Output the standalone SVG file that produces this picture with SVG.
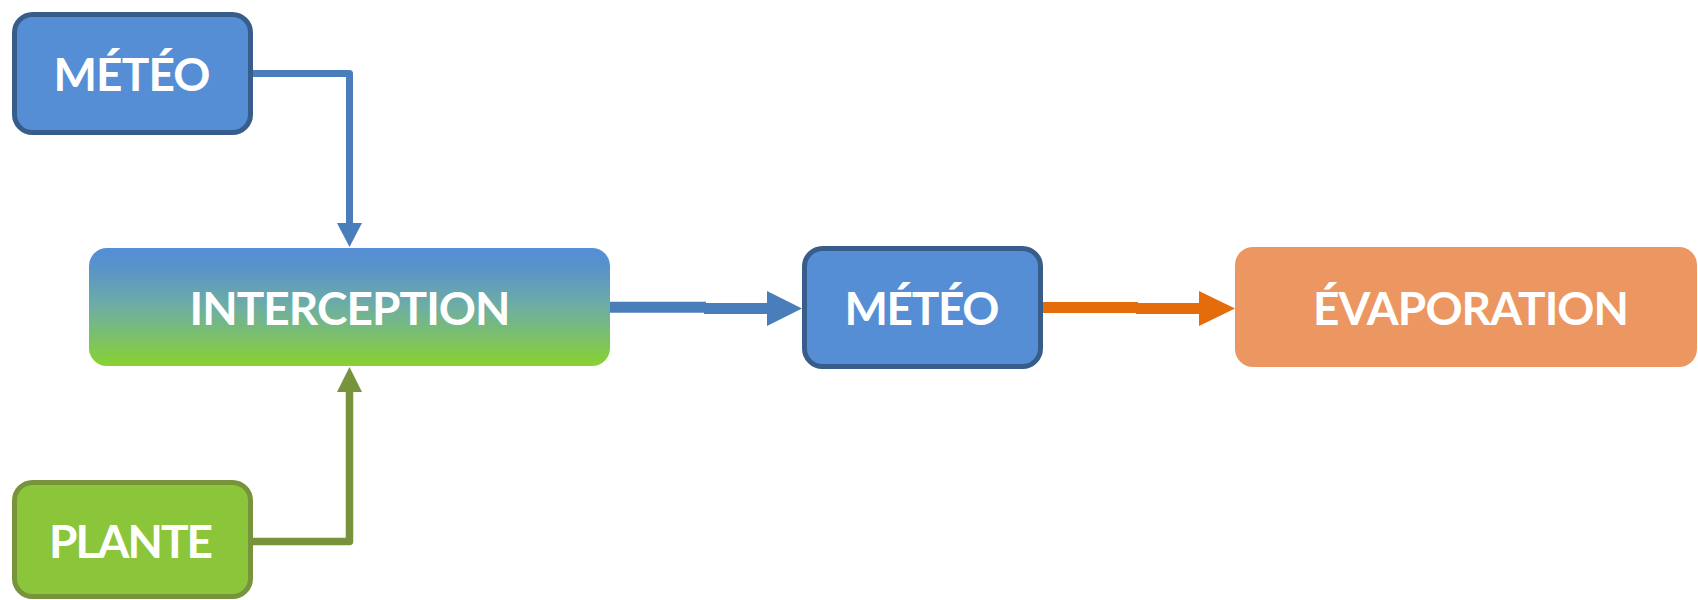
<svg xmlns="http://www.w3.org/2000/svg" width="1698" height="600" viewBox="0 0 1698 600">
  <style>
    .lbl { font-family: Lato, "Open Sans", "Liberation Sans", sans-serif; font-weight: 700; font-size: 46px; fill: #ffffff; text-anchor: middle; }
    .blue { fill: #558ed5; stroke: #385d8a; stroke-width: 5; }
    .green { fill: #8bc53a; stroke: #77933c; stroke-width: 5; }
    .orange { fill: #ec9761; }
    .c-blue { fill: none; stroke: #4a7ebb; stroke-linejoin: round; }
    .c-olive { fill: none; stroke: #77933c; stroke-linejoin: round; }
    .c-orange { fill: none; stroke: #e46c0a; }
  </style>
  <defs>
    <linearGradient id="gInt" x1="0" y1="0" x2="0" y2="1">
      <stop offset="0" stop-color="#558ed5"/>
      <stop offset="0.15" stop-color="#5892cc"/>
      <stop offset="0.5" stop-color="#6eaea3"/>
      <stop offset="1" stop-color="#88d230"/>
    </linearGradient>
    <marker id="aBlueS" markerUnits="userSpaceOnUse" viewBox="0 0 24 25" markerWidth="24" markerHeight="25" refX="0" refY="12.5" orient="auto">
      <path d="M0,0 L24,12.5 L0,25 z" fill="#4a7ebb"/>
    </marker>
    <marker id="aOliveS" markerUnits="userSpaceOnUse" viewBox="0 0 25 25" markerWidth="25" markerHeight="25" refX="0" refY="12.5" orient="auto">
      <path d="M0,0 L25,12.5 L0,25 z" fill="#77933c"/>
    </marker>
    <marker id="aBlueL" markerUnits="userSpaceOnUse" viewBox="0 0 35 35" markerWidth="35" markerHeight="35" refX="0" refY="17.5" orient="auto">
      <path d="M0,0 L35,17.5 L0,35 z" fill="#4a7ebb"/>
    </marker>
    <marker id="aOrangeL" markerUnits="userSpaceOnUse" viewBox="0 0 36 35" markerWidth="36" markerHeight="35" refX="0" refY="17.5" orient="auto">
      <path d="M0,0 L36,17.5 L0,35 z" fill="#e46c0a"/>
    </marker>
  </defs>

  <g id="connectors">
    <path class="c-blue" stroke-width="7" d="M252,73.5 H349.5 V223" marker-end="url(#aBlueS)"/>
    <path class="c-olive" stroke-width="7.5" d="M252,541.5 H349.5 V392" marker-end="url(#aOliveS)"/>
    <path class="c-blue" stroke-width="11" d="M610,307.2 H706"/>
    <path class="c-blue" stroke-width="11" d="M704,308.5 H767" marker-end="url(#aBlueL)"/>
    <path class="c-orange" stroke-width="11" d="M1042,307.5 H1138"/>
    <path class="c-orange" stroke-width="11" d="M1136,308.5 H1199" marker-end="url(#aOrangeL)"/>
  </g>

  <g id="meteo-top">
    <rect class="blue" x="14.5" y="14.5" width="236" height="118" rx="18"/>
    <text class="lbl" x="132" y="91" textLength="157">MÉTÉO</text>
  </g>

  <g id="interception">
    <rect x="89" y="248" width="521" height="118" rx="18" fill="url(#gInt)"/>
    <text class="lbl" x="350" y="325" textLength="321">INTERCEPTION</text>
  </g>

  <g id="plante">
    <rect class="green" x="14.5" y="482.5" width="236" height="114" rx="18"/>
    <text class="lbl" x="131" y="558" textLength="164">PLANTE</text>
  </g>

  <g id="meteo-mid">
    <rect class="blue" x="804.5" y="248.5" width="236" height="118" rx="18"/>
    <text class="lbl" x="922" y="325" textLength="155">MÉTÉO</text>
  </g>

  <g id="evaporation">
    <rect class="orange" x="1235" y="247" width="462" height="120" rx="18"/>
    <text class="lbl" x="1471" y="325" textLength="316">ÉVAPORATION</text>
  </g>
</svg>
